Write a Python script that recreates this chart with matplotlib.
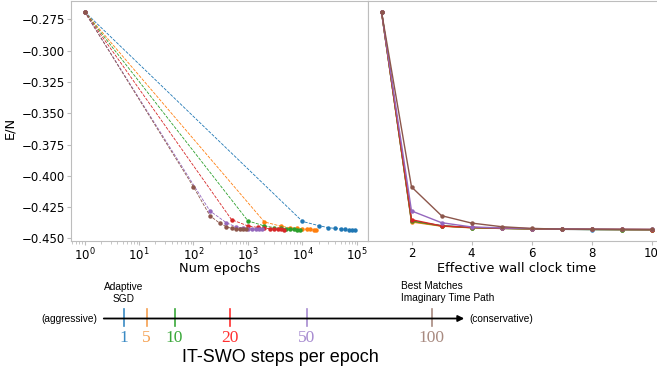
import matplotlib.pyplot as plt
import numpy as np

# IT-SWO steps per epoch for each run
steps = [1, 5, 10, 20, 50, 100]
colors = ['#1f77b4', '#ff7f0e', '#2ca02c', '#d62728', '#9467bd', '#8c564b']

# number of epochs at each checkpoint (left panel x values)
epochs_1 = [1, 10000, 20000, 30000, 40000, 50000, 60000, 70000, 80000, 90000]
epochs_5 = [1, 2000, 4000, 6000, 8000, 10000, 12000, 14000, 16000, 18000]
epochs_10 = [1, 1000, 2000, 3000, 4000, 5000, 6000, 7000, 8000, 9000]
epochs_20 = [1, 500, 1000, 1500, 2000, 2500, 3000, 3500, 4000, 4500]
epochs_50 = [1, 200, 400, 600, 800, 1000, 1200, 1400, 1600, 1800]
epochs_100 = [1, 100, 200, 300, 400, 500, 600, 700, 800, 900]

# effective wall clock time (right panel x values)
wall_time = [1, 2, 3, 4, 5, 6, 7, 8, 9, 10]

# energy per site E/N at each checkpoint
energy_1 = [-0.2687, -0.4364, -0.4398, -0.4414, -0.4420, -0.4424, -0.4427, -0.4429, -0.4430, -0.4431]
energy_5 = [-0.2687, -0.4368, -0.4402, -0.4415, -0.4420, -0.4424, -0.4427, -0.4428, -0.4429, -0.4430]
energy_10 = [-0.2687, -0.4360, -0.4400, -0.4413, -0.4419, -0.4423, -0.4426, -0.4428, -0.4429, -0.4430]
energy_20 = [-0.2687, -0.4350, -0.4400, -0.4412, -0.4418, -0.4422, -0.4425, -0.4427, -0.4428, -0.4429]
energy_50 = [-0.2687, -0.4280, -0.4374, -0.4408, -0.4416, -0.4421, -0.4424, -0.4426, -0.4427, -0.4428]
energy_100 = [-0.2687, -0.4088, -0.4318, -0.4377, -0.4406, -0.4420, -0.4425, -0.4427, -0.4428, -0.4428]

epochs = [epochs_1, epochs_5, epochs_10, epochs_20, epochs_50, epochs_100]
energies = [energy_1, energy_5, energy_10, energy_20, energy_50, energy_100]

# labels on the schematic axis below the plots
step_labels = ['1', '5', '10', '20', '50', '100']
label_colors = ['#3a8ac4', '#f5a050', '#3aa83a', '#ff3030', '#a78bd0', '#a88a80']
tick_x = [124, 146.5, 174.5, 230, 306.5, 431.5]  # hand placed, in pixels

spine_gray = '#bdbdbd'

fig = plt.figure(figsize=(6.57, 3.75), dpi=100)

# left panel: energy vs epochs
ax1 = fig.add_axes([71/657, 1 - 240.7/375, 297/657, 240/375])
for x, y, c in zip(epochs, energies, colors):
    ax1.plot(x, y, '--', color=c, lw=0.6, marker='o', ms=2.2)
ax1.set_xscale('log')
ax1.set_ylabel('E/N', fontsize=9.4)
ax1.yaxis.set_label_coords(-0.185, 0.47)
ax1.set_xlabel('Num epochs', fontsize=9.4)
ax1.xaxis.set_label_coords(0.5, -0.09)

# right panel: energy vs wall clock
ax2 = fig.add_axes([368/657, 1 - 240.7/375, 297/657, 240/375], sharey=ax1)
for y, c in zip(energies, colors):
    ax2.plot(wall_time, y, '-', color=c, lw=1.0, marker='o', ms=2.2)
ax2.set_xticks([2, 4, 6, 8, 10])
ax2.set_xlabel('Effective wall clock time', fontsize=9.4)
ax2.xaxis.set_label_coords(0.5, -0.09)
ax2.tick_params(axis='y', left=False, labelleft=False)

ax1.set_yticks([-0.275, -0.3, -0.325, -0.35, -0.375, -0.4, -0.425, -0.45])
ax1.set_ylim(-0.4518, -0.2600)

for ax in (ax1, ax2):
    for s in ax.spines.values():
        s.set_color(spine_gray)
    ax.tick_params(which='both', color=spine_gray, labelsize=8.5, length=3, pad=1.5)
    ax.tick_params(which='minor', length=2)

# schematic axis at the bottom, drawn in pixel coordinates
axd = fig.add_axes([0, 0, 1, 1], zorder=-1)
axd.set_xlim(0, 657)
axd.set_ylim(375, 0)
axd.axis('off')

axd.annotate('', xy=(467, 318.5), xytext=(101, 318.5),
             arrowprops=dict(arrowstyle='-|>', lw=1.3, color='black', mutation_scale=9))
axd.text(97, 318.5, '(aggressive)', ha='right', va='center', fontsize=7.3, family='Liberation Sans')
axd.text(469, 318.5, '(conservative)', ha='left', va='center', fontsize=7.3, family='Liberation Sans')
axd.text(124, 293, 'Adaptive\nSGD', ha='center', va='center', fontsize=7.3,
         family='Liberation Sans', linespacing=1.3)
axd.text(401, 292, 'Best Matches\nImaginary Time Path', ha='left', va='center', fontsize=7.3,
         family='Liberation Sans', linespacing=1.3)

for x, lab, lc in zip(tick_x, step_labels, label_colors):
    axd.plot([x, x], [309, 326], color=lc, lw=1.2)
    axd.text(x, 338, lab, ha='center', va='center', fontsize=12.5, color=lc,
             family='Liberation Serif')

axd.text(280.5, 357, 'IT-SWO steps per epoch', ha='center', va='center', fontsize=13,
         family='Liberation Sans')

fig.savefig('out.png', dpi=100)
